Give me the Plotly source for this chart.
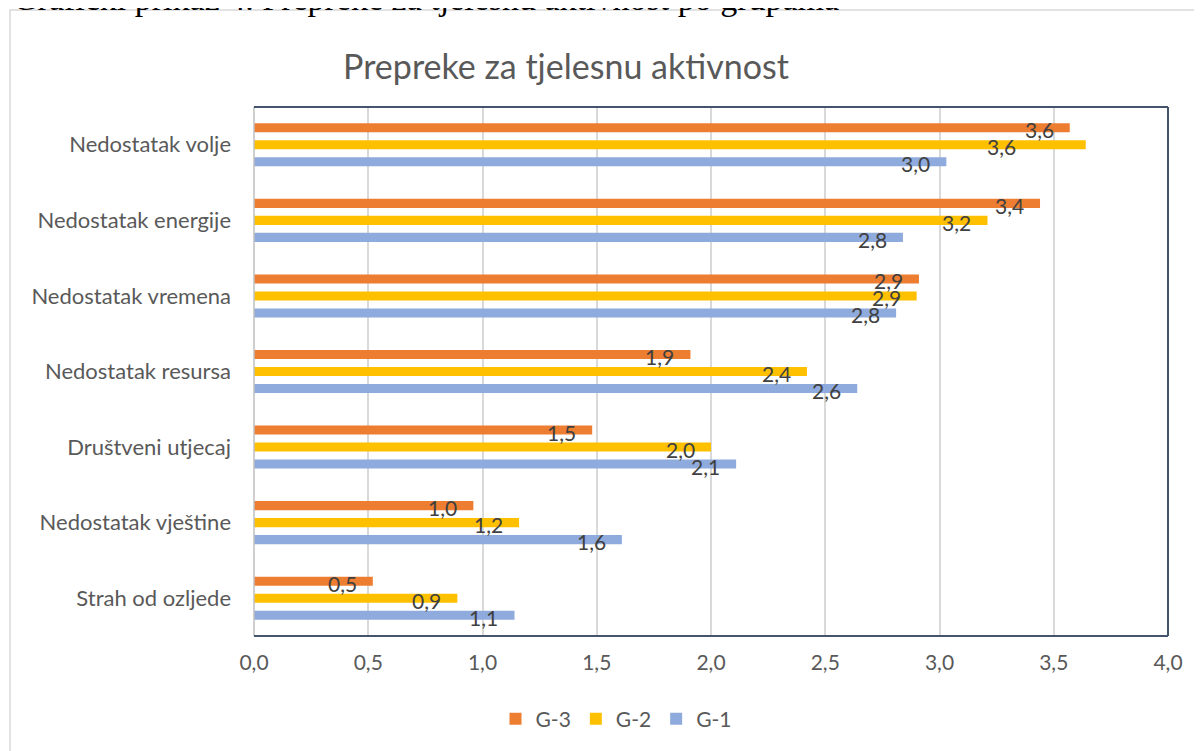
import plotly.graph_objects as go

categories = ["Nedostatak volje", "Nedostatak energije", "Nedostatak vremena",
              "Nedostatak resursa", "Društveni utjecaj", "Nedostatak vještine",
              "Strah od ozljede"]
series_names = ["G-3", "G-2", "G-1"]
g3 = [3.57, 3.44, 2.91, 1.91, 1.48, 0.96, 0.52]
g2 = [3.64, 3.21, 2.90, 2.42, 2.00, 1.16, 0.89]
g1 = [3.03, 2.84, 2.81, 2.64, 2.11, 1.61, 1.14]
x_ticks = [0, 0.5, 1.0, 1.5, 2.0, 2.5, 3.0, 3.5, 4.0]

colors = {"G-3": "#ED7D31", "G-2": "#FFC000", "G-1": "#8FAADC"}
values = {"G-3": g3, "G-2": g2, "G-1": g1}
offsets = {"G-3": -0.225, "G-2": 0.0, "G-1": 0.225}
label_nudge = {("G-2", 0): -54}

# page has an 8px body margin, so the figure is sized to the visible window
OFF = 8
W, H = 1202 - OFF, 751 - OFF
# plot area in screen pixels
L, R, T, B = 254, 1168, 107, 636


def px_x(p):
    return (p - L) / (R - L)


def px_y(p):
    return (B - p) / (B - T)


centers = [i + 0.5 for i in range(len(categories))]

fig = go.Figure()
annotations = []
for name in series_names:
    ys = [c + offsets[name] for c in centers]
    fig.add_trace(go.Bar(
        x=values[name], y=ys, orientation="h", name=name, width=0.12,
        marker=dict(color=colors[name], line=dict(width=0)),
        hoverinfo="x+name",
    ))
    for i, (v, yy) in enumerate(zip(values[name], ys)):
        annotations.append(dict(
            x=v, y=yy, xref="x", yref="y", text=f"{v:.1f}".replace(".", ","),
            showarrow=False, xanchor="right", yanchor="middle",
            xshift=-14 + label_nudge.get((name, i), 0), yshift=-2,
            font=dict(size=21, color="#404040", family="Lato"),
        ))

# cropped caption above the chart frame
annotations.append(dict(
    x=px_x(11), y=px_y(19), xref="paper", yref="paper",
    text="Grafički prikaz 4. Prepreke za tjelesnu aktivnost po grupama",
    showarrow=False, xanchor="left", yanchor="bottom",
    font=dict(size=34, color="#000000", family="Liberation Serif"),
))

shapes = [
    # outer chart frame
    dict(type="rect", xref="paper", yref="paper", x0=px_x(10), x1=px_x(1230),
         y0=px_y(790), y1=px_y(10), line=dict(color="#D9D9D9", width=1.5)),
    # plot border
    dict(type="line", xref="paper", yref="paper", x0=0, x1=0, y0=0, y1=1,
         line=dict(color="#BFBFBF", width=1.5)),
    dict(type="line", xref="paper", yref="paper", x0=0, x1=1, y0=1, y1=1,
         line=dict(color="#44546A", width=2)),
    dict(type="line", xref="paper", yref="paper", x0=0, x1=1, y0=0, y1=0,
         line=dict(color="#44546A", width=2)),
    dict(type="line", xref="paper", yref="paper", x0=1, x1=1, y0=0, y1=1,
         line=dict(color="#44546A", width=2)),
]

fig.update_layout(
    width=W, height=H,
    margin=dict(l=L - OFF, r=W - (R - OFF), t=T - OFF, b=H - (B - OFF)),
    paper_bgcolor="white", plot_bgcolor="white",
    barmode="overlay",
    separators=",.",
    font=dict(family="Lato", color="#595959"),
    title=dict(text="Prepreke za tjelesnu aktivnost", x=(566 - OFF) / W, xanchor="center",
               y=1 - (67 - OFF) / H, yanchor="middle",
               font=dict(size=34, color="#595959", family="Lato")),
    xaxis=dict(range=[0, 4], tickvals=x_ticks, tickformat=".1f",
               showgrid=True, gridcolor="#D9D9D9", gridwidth=1.5,
               zeroline=False, showline=False,
               tickfont=dict(size=21, color="#595959"), ticklabelstandoff=12),
    yaxis=dict(range=[len(categories), 0], tickvals=centers, ticktext=categories,
               showgrid=False, zeroline=False, showline=False,
               tickfont=dict(size=22, color="#595959"), ticklabelstandoff=22),
    legend=dict(orientation="h", x=px_x(616), xanchor="center",
                y=px_y(719), yanchor="middle", traceorder="normal",
                itemwidth=30, font=dict(size=21, color="#595959")),
    annotations=annotations,
    shapes=shapes,
)

fig.write_html("out.html")
